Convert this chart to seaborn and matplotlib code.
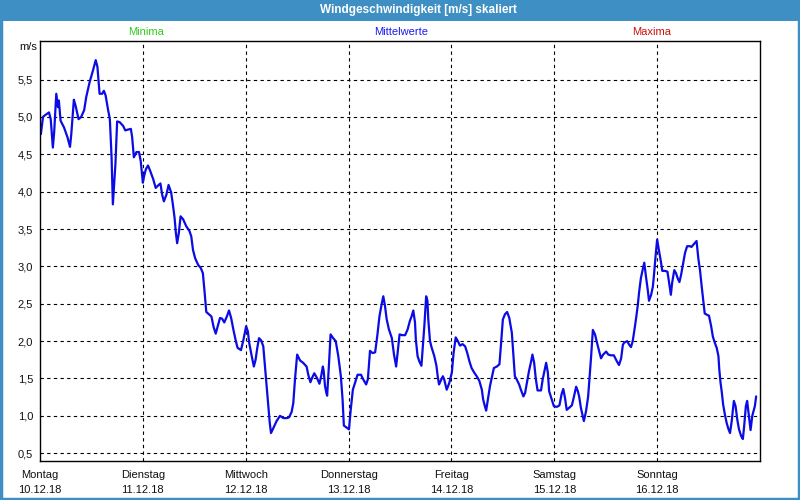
import matplotlib
matplotlib.use("Agg")
import matplotlib.pyplot as plt
from matplotlib.patches import Rectangle
import seaborn as sns
import numpy as np
import pandas as pd

# hours since Mo 10.12.18 00:00 and mean wind speed in m/s
stunden = [
    0.2, 0.7, 1.1, 2.1, 2.5, 3.0, 3.3, 3.8, 4.2, 4.4, 4.8, 5.6, 6.4, 7.0, 7.3, 7.5, 7.9, 8.3,
    9.0, 9.6, 10.3, 10.8, 11.6, 12.4, 13.0, 13.4, 13.9, 14.5, 14.9, 15.3, 15.9, 16.3, 16.5,
    16.7, 17.0, 17.3, 17.6, 18.0, 18.6, 19.4, 19.9, 20.5, 21.2, 21.5, 21.9, 22.5, 23.1, 23.5,
    24.0, 24.3, 24.7, 25.2, 25.7, 26.4, 27.0, 27.5, 28.1, 28.5, 28.9, 29.5, 30.0, 30.6, 31.0,
    31.4, 31.7, 32.0, 32.4, 32.8, 33.4, 34.1, 34.9, 35.3, 35.7, 36.2, 36.9, 37.5, 38.0, 38.4,
    38.8, 39.4, 40.0, 40.5, 41.0,
    42.0, 42.5, 43.0, 43.6, 44.1, 44.6, 45.1, 45.7, 46.1, 46.9, 47.4, 48.1, 48.5, 48.8, 49.4,
    49.9, 50.3, 50.7, 51.1, 51.6, 52.1, 52.5, 52.9, 53.3, 53.6, 53.9, 54.4, 55.2, 56.0, 56.8,
    57.6, 58.1, 58.7, 59.1, 59.5, 60.0, 60.7, 61.4, 62.2, 62.6, 63.1, 63.5, 64.0, 64.6, 65.2,
    65.6, 66.0, 66.2, 66.5, 66.8, 67.0, 67.4, 67.8, 68.4, 69.0, 69.6, 70.2, 70.6, 70.9, 71.6,
    72.1, 72.5, 73.0, 73.5, 74.1, 74.9, 75.4, 76.1, 76.5, 77.0, 77.6, 78.2, 78.7, 79.2, 79.7,
    80.1, 80.5, 80.9, 81.4, 82.1, 82.6, 83.1,
    83.5, 83.9, 84.5, 85.2, 85.8, 86.3, 86.7, 87.1, 87.5, 87.7, 88.1, 88.5, 89.0, 89.4, 89.7,
    90.1, 90.4, 90.6, 91.0, 91.4, 92.0, 92.5, 92.8, 93.1, 93.5, 94.0, 94.3, 94.9, 95.5, 96.1,
    96.5, 97.0, 97.5, 98.0, 98.6, 99.2, 99.7, 100.2, 100.7, 101.3, 101.9, 102.5, 103.1, 103.4,
    103.8, 104.1, 104.5, 105.0, 105.5, 105.9, 106.6, 107.2, 107.6, 108.0, 108.5, 109.0, 109.5,
    110.1, 110.4, 110.8, 111.2, 111.8, 112.2, 112.8, 113.2, 113.6, 114.1, 114.6, 114.9, 115.3,
    115.7, 116.1, 116.9, 117.3, 117.7, 118.1, 118.5, 118.8, 119.4, 119.9, 120.6, 121.2, 121.7,
    122.1, 122.5, 122.9, 123.5, 124.1, 124.6, 125.1, 125.5,
    125.8, 126.2, 126.9, 127.4, 127.9, 128.3, 128.6, 129.0, 129.5, 130.0, 130.5, 130.9, 131.4,
    132.1, 132.6, 133.2, 133.9, 134.6, 135.1, 135.6, 136.0, 136.3, 137.0, 137.5, 137.9, 138.3,
    138.7, 139.1, 139.5, 139.8, 140.2, 140.6, 141.0, 141.4, 141.8, 142.1, 142.6, 143.0, 143.3,
    143.7, 144.0, 144.4, 144.8, 145.2, 145.8, 146.4, 146.8, 147.2, 147.5, 148.0, 148.4, 148.8,
    149.2, 149.6, 150.0, 150.5, 151.0, 151.7, 152.0, 152.6, 153.2, 153.6, 154.0, 154.4, 154.8,
    155.1, 155.7, 156.1, 156.6, 157.0, 157.5, 157.9, 158.3, 158.5, 158.8, 159.1, 159.4, 159.8,
    160.2, 160.6, 161.0, 161.4, 161.7, 161.9, 162.3, 162.7, 163.1, 163.6, 164.0, 164.3, 164.7,
    165.0, 165.4, 165.8, 166.2, 166.6, 166.8, 167.1,
]
mittelwerte = [
    4.77, 5.00, 5.02, 5.06, 4.97, 4.59, 4.79, 5.31, 5.13, 5.22, 4.95, 4.86, 4.73, 4.60, 4.77, 4.93, 5.23, 5.15,
    4.97, 5.00, 5.09, 5.27, 5.47, 5.63, 5.76, 5.67, 5.31, 5.31, 5.35, 5.29, 5.09, 4.97, 4.70,
    4.46, 3.83, 4.10, 4.37, 4.94, 4.93, 4.88, 4.82, 4.83, 4.84, 4.73, 4.46, 4.53, 4.53, 4.41,
    4.12, 4.21, 4.30, 4.35, 4.28, 4.17, 4.05, 4.08, 4.11, 3.96, 3.87, 3.96, 4.09, 3.99, 3.83,
    3.65, 3.45, 3.31, 3.45, 3.67, 3.63, 3.54, 3.47, 3.40, 3.22, 3.11, 3.02, 2.98, 2.91, 2.66,
    2.39, 2.36, 2.33, 2.19, 2.10,
    2.31, 2.30, 2.25, 2.33, 2.41, 2.31, 2.16, 2.00, 1.91, 1.88, 2.00, 2.20, 2.13, 1.98, 1.80,
    1.66, 1.75, 1.91, 2.04, 2.01, 1.93, 1.66, 1.40, 1.13, 0.91, 0.77, 0.83, 0.93, 1.00, 0.97,
    0.97, 0.98, 1.05, 1.17, 1.49, 1.82, 1.74, 1.71, 1.66, 1.55, 1.45, 1.51, 1.57, 1.51, 1.43,
    1.53, 1.66, 1.60, 1.40, 1.31, 1.27, 1.66, 2.09, 2.04, 2.00, 1.80, 1.53, 1.22, 0.87, 0.84,
    0.82, 1.08, 1.35, 1.44, 1.55, 1.55, 1.49, 1.42, 1.49, 1.87, 1.84, 1.85, 2.07, 2.33, 2.49,
    2.60, 2.47, 2.29, 2.16, 2.04, 1.82, 1.66,
    1.87, 2.09, 2.08, 2.08, 2.16, 2.27, 2.33, 2.41, 2.25, 2.02, 1.80, 1.73, 1.67, 1.98, 2.22,
    2.60, 2.54, 2.29, 2.00, 1.91, 1.80, 1.67, 1.53, 1.42, 1.47, 1.53, 1.49, 1.35, 1.44, 1.58,
    1.84, 2.05, 2.00, 1.94, 1.96, 1.93, 1.84, 1.73, 1.64, 1.58, 1.53, 1.47, 1.35, 1.22,
    1.13, 1.07, 1.22, 1.40, 1.53, 1.64, 1.66, 1.69, 1.98, 2.29, 2.36, 2.39, 2.31,
    2.11, 1.87, 1.53, 1.49, 1.42, 1.35, 1.26, 1.31, 1.44, 1.60, 1.73, 1.82, 1.71,
    1.49, 1.34, 1.34, 1.49, 1.60, 1.71, 1.58, 1.33, 1.22, 1.13, 1.12, 1.14, 1.29,
    1.36, 1.24, 1.08, 1.11, 1.14, 1.26, 1.39, 1.33,
    1.26, 1.11, 0.93, 1.06, 1.26, 1.57, 1.80, 2.15, 2.09, 1.97, 1.86, 1.77, 1.82,
    1.86, 1.82, 1.81, 1.81, 1.73, 1.68, 1.77, 1.95, 1.98, 2.00, 1.95, 1.92, 2.00,
    2.15, 2.31, 2.49, 2.66, 2.84, 2.95, 3.05, 2.86, 2.69, 2.54, 2.62, 2.73, 2.91,
    3.18, 3.36, 3.22, 3.09, 2.94, 2.94, 2.93, 2.78, 2.62, 2.78, 2.95, 2.91, 2.84,
    2.79, 2.89, 3.02, 3.18, 3.27, 3.27, 3.26, 3.30, 3.34, 3.11, 2.95, 2.73, 2.53,
    2.37, 2.35, 2.34, 2.20, 2.06, 1.97, 1.91, 1.80, 1.62, 1.44, 1.31, 1.15, 1.02,
    0.91, 0.83, 0.77, 0.93, 1.09, 1.20, 1.13, 0.95, 0.82, 0.73, 0.69, 0.86, 1.13,
    1.20, 1.00, 0.81, 1.00, 1.09, 1.13, 1.26,
]

tage = ["Montag", "Dienstag", "Mittwoch", "Donnerstag", "Freitag", "Samstag", "Sonntag"]
daten = ["10.12.18", "11.12.18", "12.12.18", "13.12.18", "14.12.18", "15.12.18", "16.12.18"]
y_ticks = [0.5, 1.0, 1.5, 2.0, 2.5, 3.0, 3.5, 4.0, 4.5, 5.0, 5.5]

df = pd.DataFrame({"stunde": stunden, "wert": mittelwerte})

sns.set_style("white")
plt.rcParams["font.family"] = ["Liberation Sans", "DejaVu Sans"]

rahmen = "#3d8fc4"
fig = plt.figure(figsize=(8, 5), dpi=100)
fig.patch.set_facecolor("white")

# window frame + title bar
fig.add_artist(Rectangle((0, 1 - 21 / 500), 1, 21 / 500, transform=fig.transFigure,
                         facecolor=rahmen, edgecolor="none"))
fig.add_artist(Rectangle((0.0015, 0.003), 0.997, 0.99, transform=fig.transFigure,
                         facecolor="none", edgecolor=rahmen, linewidth=2.5))
fig.text(418 / 800, 1 - 10.5 / 500, "Windgeschwindigkeit [m/s] skaliert", color="white",
         fontsize=8.5, fontweight="bold", ha="center", va="center")

fig.text(146 / 800, 1 - 32 / 500, "Minima", color="#2ecc1a", fontsize=8, ha="center", va="center")
fig.text(401 / 800, 1 - 32 / 500, "Mittelwerte", color="#1a1aee", fontsize=8, ha="center", va="center")
fig.text(652 / 800, 1 - 32 / 500, "Maxima", color="#cc1010", fontsize=8, ha="center", va="center")
fig.text(28 / 800, 1 - 46.5 / 500, "m/s", color="#111111", fontsize=8, ha="center", va="center")

ax = fig.add_axes([40 / 800, 1 - 460.7 / 500, 720 / 800, 420 / 500])
sns.lineplot(data=df, x="stunde", y="wert", ax=ax, color="#0b0be6", linewidth=1.6)

ax.set_xlim(0, 168)
ax.set_ylim(0.4, 6.02)
ax.set_xticks([24 * i for i in range(7)])
ax.set_xticklabels([f"{t}\n{d}" for t, d in zip(tage, daten)], fontsize=8, linespacing=1.6)
ax.set_yticks(y_ticks)
ax.set_yticklabels([f"{v:.1f}".replace(".", ",") for v in y_ticks], fontsize=8)
ax.set_xlabel("")
ax.set_ylabel("")
ax.tick_params(axis="x", length=3, width=0.8, color="black", pad=4, colors="#111111")
ax.tick_params(axis="y", length=0, pad=5, colors="#111111")

for v in y_ticks:
    ax.axhline(v, color="black", linewidth=0.8, linestyle=(0, (3, 3)), zorder=0)
for d in range(1, 7):
    ax.axvline(24 * d, color="black", linewidth=0.8, linestyle=(0, (3, 3)), zorder=0)

for s in ax.spines.values():
    s.set_visible(True)
    s.set_color("black")
    s.set_linewidth(1.0)

fig.savefig("out.png", dpi=100)
